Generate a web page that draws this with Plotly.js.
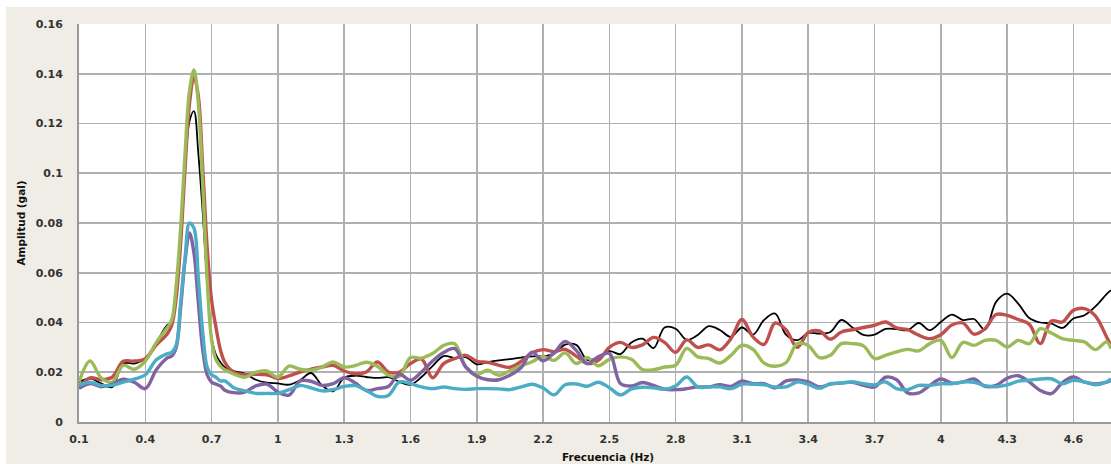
<!DOCTYPE html>
<html>
<head>
<meta charset="utf-8">
<script src="https://cdn.plot.ly/plotly-3.0.1.min.js"></script>
<style>
  html, body { margin: 0; padding: 0; background: #ffffff; }
  #chart { position: absolute; left: 6px; top: 7px; width: 1105px; height: 457px; }
</style>
</head>
<body>
<div id="chart"></div>
<script>
// Frequency (Hz)
var freq = [
  0.10,0.15,0.20,0.25,0.30,0.35,0.40,0.45,0.50,
  0.52,0.54,0.56,0.58,0.60,0.62,0.64,0.66,0.68,0.70,0.72,0.74,0.76,
  0.80,0.85,0.90,0.95,1.00,1.05,1.10,1.15,1.20,1.25,
  1.30,1.35,1.40,1.45,1.50,1.55,1.60,1.65,1.70,1.75,
  1.80,1.85,1.90,1.95,2.00,2.05,2.10,2.15,2.20,2.25,
  2.30,2.35,2.40,2.45,2.50,2.55,2.60,2.65,2.70,2.75,
  2.80,2.85,2.90,2.95,3.00,3.05,3.10,3.15,3.20,3.25,
  3.30,3.35,3.40,3.45,3.50,3.55,3.60,3.65,3.70,3.75,
  3.80,3.85,3.90,3.95,4.00,4.05,4.10,4.15,4.20,4.25,
  4.30,4.35,4.40,4.45,4.50,4.55,4.60,4.65,4.70,4.75,
  4.77
];

var serieNegra = [
  0.016,0.0175,0.0155,0.014,0.0235,0.0235,0.0255,0.032,0.039,
  0.040,0.052,0.075,0.102,0.121,0.125,0.108,0.084,0.056,0.034,0.027,0.024,0.022,
  0.0205,0.0195,0.017,0.0158,0.0155,0.015,0.0168,0.0197,0.0147,0.0123,
  0.0178,0.0186,0.0181,0.0177,0.018,0.0161,0.015,0.0181,0.0225,0.0265,
  0.0257,0.0261,0.0232,0.0241,0.0248,0.0253,0.0259,0.0264,0.0264,0.0275,
  0.0311,0.031,0.025,0.026,0.0285,0.0273,0.032,0.0335,0.0297,0.038,
  0.0375,0.033,0.035,0.0385,0.037,0.0342,0.038,0.0351,0.041,0.0436,
  0.035,0.0329,0.0358,0.0355,0.0362,0.041,0.038,0.035,0.0351,0.0374,
  0.0373,0.0369,0.0398,0.0369,0.0402,0.0432,0.041,0.0414,0.0371,0.0483,
  0.0516,0.0476,0.0418,0.040,0.0396,0.0378,0.0416,0.0429,0.0465,0.0514,
  0.053
];

var serieRoja = [
  0.0138,0.0177,0.017,0.018,0.0244,0.0245,0.0255,0.031,0.0355,
  0.039,0.050,0.072,0.102,0.128,0.139,0.131,0.102,0.070,0.049,0.038,0.029,0.024,
  0.020,0.019,0.0192,0.019,0.0175,0.0185,0.0201,0.0212,0.0221,0.0228,
  0.0205,0.0194,0.0201,0.0241,0.0201,0.0201,0.0235,0.0253,0.0178,0.0235,
  0.0255,0.0268,0.0244,0.024,0.0228,0.022,0.0243,0.0278,0.0291,0.0283,
  0.0292,0.0265,0.0235,0.0248,0.030,0.032,0.030,0.031,0.034,0.032,
  0.028,0.033,0.030,0.031,0.029,0.0335,0.0412,0.0342,0.0312,0.0398,
  0.037,0.030,0.036,0.0366,0.0333,0.0362,0.0371,0.038,0.0389,0.0402,
  0.0378,0.0371,0.0349,0.0335,0.0351,0.039,0.0398,0.0353,0.0375,0.0432,
  0.0429,0.0412,0.0393,0.0315,0.0406,0.0402,0.0449,0.0456,0.0426,0.0342,
  0.0308
];

var serieVerde = [
  0.016,0.0245,0.0178,0.016,0.0228,0.0212,0.0245,0.032,0.038,
  0.041,0.055,0.078,0.108,0.133,0.1415,0.128,0.095,0.057,0.033,0.025,0.0225,0.021,
  0.0193,0.018,0.020,0.0205,0.018,0.0225,0.0212,0.0208,0.0221,0.0241,
  0.0221,0.0227,0.024,0.0224,0.0188,0.0184,0.0259,0.0257,0.0275,0.0308,
  0.0315,0.0224,0.0192,0.0208,0.0188,0.0206,0.0226,0.0242,0.0263,0.0248,
  0.0278,0.0235,0.0258,0.0226,0.0252,0.0262,0.0252,0.0211,0.021,0.0221,
  0.0228,0.0296,0.0262,0.0255,0.0237,0.0268,0.0308,0.0292,0.0237,0.0224,
  0.0239,0.0315,0.0308,0.0259,0.0268,0.0315,0.0315,0.0306,0.0255,0.0268,
  0.0282,0.0292,0.0286,0.0315,0.0328,0.0259,0.032,0.0308,0.0328,0.0328,
  0.0302,0.0328,0.0315,0.0375,0.0358,0.0335,0.0328,0.0322,0.0291,0.0322,
  0.0295
];

var serieMorada = [
  0.0135,0.0155,0.0142,0.0152,0.0172,0.016,0.0134,0.021,0.0258,
  0.0265,0.030,0.046,0.065,0.076,0.068,0.048,0.029,0.019,0.016,0.0152,0.0145,0.0128,
  0.0118,0.012,0.0145,0.0152,0.012,0.0108,0.0165,0.0164,0.0147,0.0154,
  0.0178,0.0157,0.0127,0.0134,0.0143,0.0192,0.0168,0.0201,0.0245,0.0279,
  0.0295,0.0221,0.0184,0.017,0.017,0.0188,0.0218,0.0281,0.0246,0.0278,
  0.0324,0.0288,0.0235,0.0262,0.0276,0.0155,0.0145,0.0159,0.0147,0.0132,
  0.013,0.0134,0.0141,0.0141,0.015,0.0143,0.0165,0.0154,0.0154,0.0137,
  0.0165,0.0169,0.0161,0.0141,0.0152,0.0157,0.016,0.0147,0.0141,0.018,
  0.017,0.0117,0.0117,0.0147,0.0173,0.0156,0.0161,0.0173,0.0143,0.0147,
  0.0176,0.0186,0.0161,0.0127,0.0114,0.0158,0.0181,0.016,0.0153,0.016,
  0.0168
];

var serieCian = [
  0.0147,0.016,0.0147,0.0147,0.016,0.0172,0.019,0.025,0.0275,
  0.028,0.031,0.048,0.066,0.080,0.078,0.058,0.036,0.022,0.019,0.018,0.0165,0.0165,
  0.0138,0.0125,0.0115,0.0115,0.0115,0.013,0.0147,0.0137,0.0125,0.013,
  0.0143,0.0146,0.0127,0.0103,0.0107,0.0161,0.0154,0.0141,0.0134,0.0141,
  0.0134,0.0131,0.0134,0.0134,0.0133,0.013,0.0141,0.0152,0.0137,0.0109,
  0.015,0.0153,0.0144,0.016,0.0138,0.0109,0.0133,0.014,0.0137,0.0132,
  0.0145,0.0181,0.0141,0.0141,0.0141,0.0134,0.0152,0.0152,0.015,0.0141,
  0.0141,0.0161,0.0152,0.0135,0.0154,0.0157,0.0161,0.0154,0.0149,0.0161,
  0.0134,0.013,0.0147,0.0147,0.0154,0.0154,0.0161,0.016,0.0146,0.0142,
  0.0149,0.0164,0.0168,0.0173,0.0174,0.0154,0.0168,0.0161,0.015,0.0161,
  0.0174
];

var xTickVals = [0.1,0.4,0.7,1.0,1.3,1.6,1.9,2.2,2.5,2.8,3.1,3.4,3.7,4.0,4.3,4.6];
var xTickText = ["0.1","0.4","0.7","1","1.3","1.6","1.9","2.2","2.5","2.8","3.1","3.4","3.7","4","4.3","4.6"];
var yTickVals = [0,0.02,0.04,0.06,0.08,0.1,0.12,0.14,0.16];
var yTickText = ["0","0.02","0.04","0.06","0.08","0.1","0.12","0.14","0.16"];

function serie(y, color, width) {
  return {
    x: freq, y: y, type: 'scatter', mode: 'lines',
    line: { color: color, width: width, shape: 'spline', smoothing: 1 },
    hoverinfo: 'skip'
  };
}

var data = [
  serie(serieNegra, '#000000', 1.8),
  serie(serieRoja, '#c0504d', 3.4),
  serie(serieVerde, '#9bbb59', 3.4),
  serie(serieMorada, '#8064a2', 3.4),
  serie(serieCian, '#4bacc6', 3.4)
];

var tickFont = { family: 'DejaVu Sans', size: 11, color: '#333333', weight: 'bold' };

var layout = {
  width: 1105, height: 457,
  margin: { l: 73, r: 0, t: 17, b: 42, pad: 0 },
  paper_bgcolor: '#efede5',
  plot_bgcolor: '#ffffff',
  showlegend: false,
  hovermode: false,
  xaxis: {
    range: [0.1, 4.77],
    tickmode: 'array', tickvals: xTickVals, ticktext: xTickText,
    showgrid: true, gridcolor: '#b0b0b0', gridwidth: 1.6,
    showline: true, linecolor: '#999999', linewidth: 2,
    zeroline: false, ticks: '', ticklabelstandoff: 6,
    tickfont: tickFont, fixedrange: true
  },
  yaxis: {
    range: [0, 0.16],
    tickmode: 'array', tickvals: yTickVals, ticktext: yTickText,
    showgrid: true, gridcolor: '#b0b0b0', gridwidth: 1.6,
    showline: true, linecolor: '#999999', linewidth: 2,
    zeroline: false, ticks: '', ticklabelstandoff: 12,
    tickfont: tickFont, fixedrange: true,
    title: { text: 'Amplitud (gal)', standoff: 8,
             font: { family: 'DejaVu Sans', size: 10.5, color: '#111111', weight: 'bold' } }
  },
  annotations: [{
    text: 'Frecuencia (Hz)', xref: 'paper', yref: 'paper',
    x: 0.5126, y: -0.088, xanchor: 'center', yanchor: 'middle',
    showarrow: false,
    font: { family: 'DejaVu Sans', size: 10.5, color: '#111111', weight: 'bold' }
  }]
};

Plotly.newPlot('chart', data, layout, { displayModeBar: false, staticPlot: true });
</script>
</body>
</html>
